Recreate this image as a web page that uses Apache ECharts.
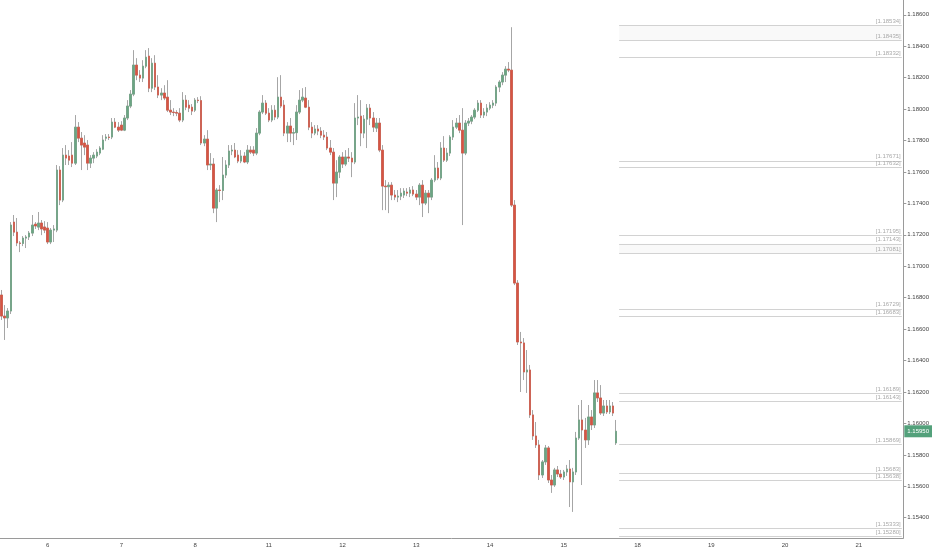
<!DOCTYPE html>
<html>
<head>
<meta charset="utf-8">
<script src="https://cdn.jsdelivr.net/npm/echarts@6/dist/echarts.min.js"></script>
<style>
    html, body { margin: 0; padding: 0; background: #fff; }
    #chart { width: 932px; height: 550px; }
</style>
</head>
<body>
<div id="chart"></div>
<script>
// 1H candles, [open, close, low, high]
var jun5 = [
    [1.16817,1.16683,1.16658,1.16849],[1.16683,1.16671,1.16531,1.16753],[1.16671,1.16715,1.16607,1.16734],
    [1.16715,1.17262,1.16696,1.17281],[1.17281,1.17217,1.17192,1.17326],[1.17217,1.17148,1.17128,1.17307],
    [1.17148,1.17145,1.17090,1.17160],[1.17145,1.17179,1.17128,1.17192],[1.17179,1.17186,1.17116,1.17198],
    [1.17186,1.17211,1.17167,1.17224],[1.17211,1.17262,1.17192,1.17326],[1.17268,1.17256,1.17237,1.17281],
    [1.17249,1.17275,1.17230,1.17345],[1.17275,1.17237,1.17198,1.17294],[1.17250,1.17230,1.17211,1.17287]
];
var jun6 = [
    [1.17243,1.17154,1.17141,1.17281],[1.17154,1.17230,1.17141,1.17243],[1.17230,1.17237,1.17154,1.17262],
    [1.17230,1.17612,1.17217,1.17644],[1.17612,1.17421,1.17389,1.17637],[1.17421,1.17707,1.17408,1.17752],
    [1.17707,1.17688,1.17644,1.17771],[1.17701,1.17675,1.17644,1.17739],[1.17707,1.17656,1.17631,1.17790],
    [1.17656,1.17885,1.17644,1.17962],[1.17885,1.17815,1.17790,1.17917],[1.17815,1.17771,1.17612,1.17854],
    [1.17784,1.17758,1.17707,1.17834],[1.17771,1.17656,1.17612,1.17803],[1.17656,1.17688,1.17625,1.17707],
    [1.17688,1.17707,1.17656,1.17726],[1.17701,1.17726,1.17688,1.17745],[1.17720,1.17752,1.17707,1.17764],
    [1.17745,1.17803,1.17739,1.17834],[1.17815,1.17822,1.17796,1.17841],[1.17822,1.17819,1.17803,1.17841],
    [1.17822,1.17917,1.17809,1.17943],[1.17917,1.17885,1.17879,1.17943],[1.17885,1.17866,1.17854,1.17917]
];
var jun7 = [
    [1.17898,1.17866,1.17860,1.17923],[1.17866,1.17943,1.17860,1.17962],[1.17943,1.18019,1.17930,1.18057],
    [1.18019,1.18095,1.18006,1.18121],[1.18095,1.18280,1.18082,1.18375],[1.18280,1.18216,1.18184,1.18324],
    [1.18216,1.18197,1.18172,1.18248],[1.18197,1.18273,1.18172,1.18311],[1.18273,1.18330,1.18260,1.18375],
    [1.18337,1.18133,1.18108,1.18388],[1.18133,1.18292,1.18108,1.18324],[1.18292,1.18140,1.18121,1.18343],
    [1.18140,1.18089,1.18070,1.18216],[1.18089,1.18102,1.18057,1.18133],[1.18102,1.18070,1.18057,1.18152],
    [1.18076,1.17993,1.17981,1.18184],[1.17993,1.17981,1.17962,1.18057],[1.17981,1.17978,1.17955,1.18006],
    [1.17978,1.17974,1.17955,1.17993],[1.17974,1.17930,1.17917,1.18006],[1.17930,1.18057,1.17917,1.18108],
    [1.18057,1.18012,1.17993,1.18089],[1.18025,1.18006,1.17981,1.18057],[1.18012,1.17987,1.17962,1.18032]
];
var jun8 = [
    [1.17993,1.18057,1.17981,1.18070],[1.18057,1.18054,1.18038,1.18076],[1.18054,1.17784,1.17771,1.18082],
    [1.17784,1.17809,1.17764,1.17834],[1.17809,1.17644,1.17612,1.17866],[1.17644,1.17650,1.17612,1.17720],
    [1.17650,1.17370,1.17338,1.17688],[1.17370,1.17485,1.17281,1.17497],[1.17485,1.17482,1.17408,1.17516],
    [1.17482,1.17580,1.17421,1.17695],[1.17580,1.17644,1.17561,1.17675],[1.17644,1.17733,1.17625,1.17771],
    [1.17733,1.17739,1.17707,1.17771],[1.17739,1.17695,1.17688,1.17784],[1.17707,1.17669,1.17656,1.17739],
    [1.17669,1.17701,1.17656,1.17739],[1.17701,1.17663,1.17656,1.17726],[1.17663,1.17739,1.17650,1.17771],
    [1.17739,1.17726,1.17714,1.17764],[1.17739,1.17720,1.17701,1.17764],[1.17720,1.17847,1.17707,1.17879],
    [1.17847,1.17981,1.17834,1.17993],[1.17981,1.18038,1.17968,1.18089],[1.18038,1.17974,1.17962,1.18057]
];
var jun11 = [
    [1.17974,1.17930,1.17917,1.18006],[1.17930,1.17993,1.17917,1.18025],[1.17993,1.17949,1.17930,1.18025],
    [1.17949,1.18076,1.17936,1.18203],[1.18076,1.18019,1.18006,1.18216],[1.18025,1.17847,1.17828,1.18057],
    [1.17847,1.17892,1.17790,1.17917],[1.17892,1.17847,1.17790,1.17943],[1.17847,1.17850,1.17771,1.17879],
    [1.17850,1.17981,1.17803,1.18025],[1.17981,1.18057,1.17968,1.18121],[1.18057,1.18076,1.18044,1.18133],
    [1.18070,1.18012,1.18006,1.18140],[1.18012,1.17885,1.17866,1.18057],[1.17885,1.17847,1.17815,1.17917],
    [1.17847,1.17873,1.17834,1.17898],[1.17873,1.17860,1.17834,1.17898],[1.17860,1.17834,1.17815,1.17885],
    [1.17834,1.17822,1.17803,1.17866],[1.17822,1.17752,1.17739,1.17854],[1.17752,1.17726,1.17707,1.17803],
    [1.17726,1.17529,1.17421,1.17752],[1.17529,1.17599,1.17440,1.17675],[1.17599,1.17695,1.17561,1.17707]
];
var jun12 = [
    [1.17695,1.17650,1.17625,1.17726],[1.17650,1.17695,1.17637,1.17739],[1.17695,1.17688,1.17663,1.17752],
    [1.17688,1.17663,1.17567,1.17726],[1.17663,1.17943,1.17650,1.18038],[1.17943,1.17949,1.17898,1.18089],
    [1.17955,1.17847,1.17764,1.18057],[1.17847,1.17936,1.17815,1.17962],[1.17936,1.18006,1.17752,1.18032],
    [1.18006,1.17943,1.17898,1.18032],[1.17943,1.17885,1.17854,1.17981],[1.17879,1.17911,1.17854,1.17943],
    [1.17911,1.17739,1.17726,1.17943],[1.17739,1.17510,1.17357,1.17771],[1.17510,1.17506,1.17357,1.17548],
    [1.17506,1.17516,1.17338,1.17535],[1.17516,1.17453,1.17421,1.17535],[1.17453,1.17440,1.17421,1.17485],
    [1.17440,1.17446,1.17408,1.17485],[1.17446,1.17465,1.17421,1.17497],[1.17453,1.17478,1.17434,1.17497],
    [1.17472,1.17465,1.17446,1.17497],[1.17465,1.17485,1.17440,1.17504],[1.17485,1.17459,1.17446,1.17510]
];
var jun13 = [
    [1.17459,1.17440,1.17421,1.17485],[1.17440,1.17516,1.17389,1.17529],[1.17516,1.17402,1.17313,1.17548],
    [1.17402,1.17465,1.17389,1.17485],[1.17465,1.17440,1.17338,1.17485],[1.17440,1.17548,1.17421,1.17561],
    [1.17548,1.17625,1.17535,1.17707],[1.17625,1.17561,1.17548,1.17663],[1.17561,1.17752,1.17548,1.17790],
    [1.17752,1.17675,1.17663,1.17828],[1.17675,1.17720,1.17663,1.17752],[1.17720,1.17822,1.17701,1.17834],
    [1.17822,1.17885,1.17803,1.17930],[1.17885,1.17911,1.17873,1.17943],[1.17911,1.17866,1.17847,1.17962],
    [1.17866,1.17720,1.17262,1.18006],[1.17720,1.17911,1.17707,1.17930],[1.17911,1.17923,1.17892,1.17943],
    [1.17923,1.17949,1.17904,1.17962],[1.17949,1.17993,1.17936,1.18006],[1.17993,1.18038,1.17981,1.18057],
    [1.18038,1.17962,1.17943,1.18057],[1.17962,1.17981,1.17943,1.18006],[1.17981,1.18006,1.17955,1.18032]
];
var jun14 = [
    [1.18006,1.18025,1.17993,1.18044],[1.18025,1.18038,1.18006,1.18057],[1.18038,1.18140,1.18019,1.18152],
    [1.18140,1.18172,1.18108,1.18184],[1.18172,1.18216,1.18152,1.18235],[1.18216,1.18254,1.18172,1.18273],
    [1.18254,1.18248,1.18235,1.18299],[1.18248,1.17389,1.17377,1.18521],[1.17389,1.16893,1.16880,1.17421],
    [1.16893,1.16518,1.16499,1.16912],[1.16518,1.16512,1.16200,1.16582],[1.16512,1.16327,1.16276,1.16543],
    [1.16327,1.16340,1.16194,1.16467],[1.16340,1.16054,1.16035,1.16372],[1.16054,1.15920,1.15895,1.16085],
    [1.15920,1.15863,1.15844,1.16009],[1.15863,1.15672,1.15640,1.15895],[1.15672,1.15755,1.15653,1.15767],
    [1.15755,1.15844,1.15736,1.15863],[1.15844,1.15640,1.15621,1.15856],[1.15640,1.15608,1.15558,1.15672],
    [1.15608,1.15704,1.15596,1.15717],[1.15704,1.15678,1.15659,1.15729],[1.15678,1.15659,1.15647,1.15704]
];
var jun15 = [
    [1.15659,1.15691,1.15640,1.15704],[1.15691,1.15710,1.15666,1.15736],[1.15710,1.15628,1.15468,1.15767],
    [1.15628,1.15691,1.15437,1.15717],[1.15691,1.15907,1.15672,1.15946],[1.15907,1.16022,1.15895,1.16117],
    [1.16022,1.15958,1.15608,1.16149],[1.15958,1.15895,1.15844,1.16035],[1.15895,1.16041,1.15863,1.16117],
    [1.16041,1.15990,1.15958,1.16085],[1.15990,1.16194,1.15971,1.16276],[1.16194,1.16162,1.16136,1.16276],
    [1.16162,1.16066,1.16054,1.16244],[1.16066,1.16111,1.16047,1.16149],[1.16111,1.16073,1.16060,1.16149],
    [1.16073,1.16111,1.16060,1.16149],[1.16111,1.16066,1.16047,1.16136],[1.15876,1.15950,1.15863,1.16022]
];

// 水平价位线
var levels = [1.18534, 1.18435, 1.18332, 1.17671, 1.17632, 1.17195, 1.17143, 1.17081,
    1.16729, 1.16683, 1.16189, 1.16143, 1.15869, 1.15683, 1.15638, 1.15333, 1.15280];
var bands = [[1.18534, 1.18435], [1.17143, 1.17081]];

// 日期刻度
var firstDayLabel = '5';
var dayTicks = ['6', '7', '8', '11', '12', '13', '14', '15', '18', '19', '20', '21'];
var firstTickIndex = 15;   // 第一根 "6" 日K线的位置
var barsPerDay = 24;
var totalBars = 294;       // 含右侧空白

var upColor = '#6ba583';
var downColor = '#d75442';
var wickColor = '#a6a6a6';

var candles = [].concat(jun5, jun6, jun7, jun8, jun11, jun12, jun13, jun14, jun15);

var categories = [];
for (var i = 0; i < totalBars; i++) {
    var k = Math.floor((i - firstTickIndex) / barsPerDay);
    var h = ((i - firstTickIndex) % barsPerDay + barsPerDay) % barsPerDay;
    categories.push((k < 0 ? firstDayLabel : dayTicks[k]) + ' ' + h + ':00');
}

// 实体：去掉影线
var bodies = candles.map(function (d) {
    return [d[0], d[1], Math.min(d[0], d[1]), Math.max(d[0], d[1])];
});

var lineStart = categories[candles.length];
var lineEnd = categories[totalBars - 1];
var lastPrice = candles[candles.length - 1][1];

var mchart = echarts.init(document.getElementById('chart'));
var option = {
    animation: false,
    backgroundColor: '#fff',
    axisPointer: { triggerOn: 'none' },
    grid: { left: 0, right: 26, top: 0, bottom: 12 },
    xAxis: {
        type: 'category',
        data: categories,
        boundaryGap: true,
        axisLine: { lineStyle: { color: '#9a9a9a', width: 1 } },
        axisTick: { show: false },
        axisLabel: {
            interval: function (index) {
                return index >= firstTickIndex && (index - firstTickIndex) % barsPerDay === 0;
            },
            formatter: function (v) { return v.split(' ')[0]; },
            fontSize: 6,
            fontFamily: 'Liberation Sans',
            color: '#444',
            margin: 4
        },
        splitLine: { show: false }
    },
    yAxis: {
        type: 'value',
        position: 'right',
        scale: true,
        min: 1.15271,
        max: 1.18694,
        splitNumber: 17,
        axisLine: { show: true, lineStyle: { color: '#9a9a9a', width: 1 } },
        axisTick: { show: true, length: 3, lineStyle: { color: '#9a9a9a' } },
        axisLabel: {
            showMinLabel: false,
            showMaxLabel: false,
            formatter: function (v) { return v.toFixed(5); },
            fontSize: 6,
            fontFamily: 'Liberation Sans',
            color: '#444',
            margin: 4
        },
        splitLine: { show: false },
        // 最新价标签
        axisPointer: {
            show: true,
            type: 'line',
            value: lastPrice,
            status: 'show',
            snap: false,
            triggerTooltip: false,
            lineStyle: { color: 'rgba(0,0,0,0)' },
            label: {
                show: true,
                formatter: function (p) { return p.value.toFixed(5); },
                backgroundColor: '#53a17b',
                borderRadius: 0,
                shadowBlur: 0,
                color: '#fff',
                fontSize: 6,
                fontFamily: 'Liberation Sans',
                padding: [3, 3, 3, 3],
                margin: 1
            }
        }
    },
    series: [
        {
            name: 'wick',
            type: 'candlestick',
            data: candles,
            barWidth: 2,
            silent: true,
            itemStyle: {
                color: 'transparent',
                color0: 'transparent',
                borderColor: wickColor,
                borderColor0: wickColor,
                borderColorDoji: wickColor,
                borderWidth: 1
            },
            markArea: {
                silent: true,
                itemStyle: { color: 'rgba(0,0,0,0.022)' },
                data: bands.map(function (b) {
                    return [{ coord: [lineStart, b[0]] }, { coord: [lineEnd, b[1]] }];
                })
            },
            markLine: {
                silent: true,
                symbol: 'none',
                lineStyle: { color: '#d2d2d2', width: 1, type: 'solid' },
                label: {
                    position: 'insideEndTop',
                    formatter: '{b}',
                    fontSize: 6,
                    fontFamily: 'Liberation Sans',
                    color: '#a9a9a9',
                    distance: 1
                },
                data: levels.map(function (v) {
                    return [
                        { coord: [lineStart, v], name: '[' + v.toFixed(5) + ']' },
                        { coord: [lineEnd, v] }
                    ];
                })
            }
        },
        {
            name: 'body',
            type: 'candlestick',
            data: bodies,
            barWidth: 2,
            itemStyle: {
                color: upColor,
                color0: downColor,
                borderColor: upColor,
                borderColor0: downColor,
                borderColorDoji: '#555',
                borderWidth: 0.6
            }
        }
    ]
};
mchart.setOption(option);
</script>
</body>
</html>
